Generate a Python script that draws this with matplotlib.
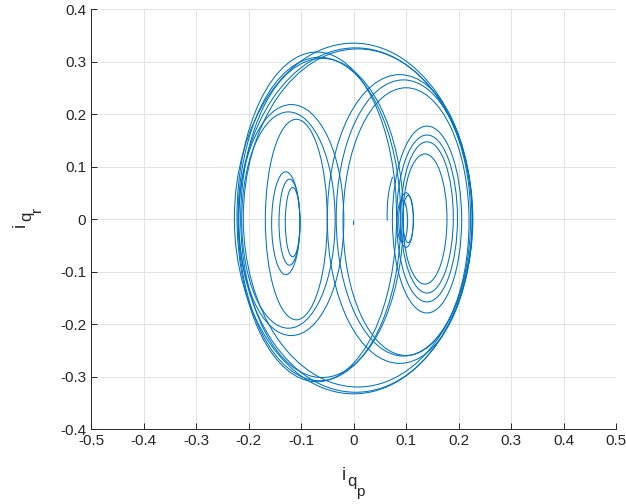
import matplotlib
matplotlib.use("Agg")
import matplotlib.pyplot as plt
from matplotlib.patches import Ellipse, Arc

plt.rcParams["font.family"] = ["Liberation Sans", "DejaVu Sans"]

# loops of the i_qp / i_qr orbit: centre, half-width, half-height
loop_cx = [-0.116, -0.122, -0.129,                 # inner left scroll
           -0.109, -0.124, -0.1185,                # middle left scroll
           0.104, 0.100, 0.093,                    # inner right scroll
           0.136, 0.140, 0.140, 0.140,             # middle right scroll
           0.088, 0.095, 0.100,                    # outer right scroll
           -0.070, -0.065, -0.060,                 # outer left scroll
           0.000, 0.004, 0.008]                    # outermost loops
loop_cy = [-0.006, -0.006, -0.008,
           -0.001, -0.002, -0.002,
           0.000, -0.002, -0.004,
           0.000, 0.003, 0.001, -0.001,
           0.000, 0.002, -0.005,
           0.004, 0.000, 0.002,
           0.001, -0.002, 0.002]
loop_rx = [0.014, 0.020, 0.027,
           0.059, 0.089, 0.100,
           0.010, 0.014, 0.010,
           0.042, 0.050, 0.058, 0.066,
           0.138, 0.128, 0.120,
           0.152, 0.155, 0.155,
           0.227, 0.223, 0.218]
loop_ry = [0.066, 0.082, 0.098,
           0.191, 0.206, 0.220,
           0.045, 0.052, 0.040,
           0.124, 0.144, 0.159, 0.178,
           0.275, 0.263, 0.255,
           0.314, 0.308, 0.304,
           0.334, 0.328, 0.322]

# loose ends of the orbit: centre, half-width, half-height, start/end angle
end_cx = [0.100, 0.060]
end_cy = [0.010, -0.007]
end_rx = [0.036, 0.060]
end_ry = [0.100, 0.250]
end_t1 = [110, 176]
end_t2 = [200, 184]

blue = "#0072BD"
dark = "#262626"
W, H = 626, 504

fig = plt.figure(figsize=(6.26, 5.04), dpi=100)
ax = fig.add_axes([0.1454, 0.1488, 0.8387, 0.8333])

for cx, cy, rx, ry in zip(loop_cx, loop_cy, loop_rx, loop_ry):
    ax.add_patch(Ellipse((cx, cy), 2 * rx, 2 * ry, fill=False,
                         edgecolor=blue, linewidth=0.75))
for cx, cy, rx, ry, t1, t2 in zip(end_cx, end_cy, end_rx, end_ry, end_t1, end_t2):
    ax.add_patch(Arc((cx, cy), 2 * rx, 2 * ry, theta1=t1, theta2=t2,
                     edgecolor=blue, linewidth=0.75))

ax.set_xlim(-0.5, 0.5)
ax.set_ylim(-0.4, 0.4)
ax.set_xticks([-0.5, -0.4, -0.3, -0.2, -0.1, 0, 0.1, 0.2, 0.3, 0.4, 0.5])
ax.set_yticks([-0.4, -0.3, -0.2, -0.1, 0, 0.1, 0.2, 0.3, 0.4])
ax.set_xticklabels(["-0.5", "-0.4", "-0.3", "-0.2", "-0.1", "0",
                    "0.1", "0.2", "0.3", "0.4", "0.5"])
ax.set_yticklabels(["-0.4", "-0.3", "-0.2", "-0.1", "0",
                    "0.1", "0.2", "0.3", "0.4"])

ax.grid(True, color="#e3e3e3", linewidth=0.7)
ax.set_axisbelow(True)
for side in ["top", "right"]:
    ax.spines[side].set_visible(False)
for side in ["left", "bottom"]:
    ax.spines[side].set_color(dark)
    ax.spines[side].set_linewidth(0.7)
ax.tick_params(direction="in", length=4, width=0.7, color=dark,
               labelcolor=dark, labelsize=11)

# axis labels written piece by piece so the nested subscripts keep their size
def px_text(x, y, s, size, rot=0):
    fig.text(x / W, 1 - y / H, s, fontsize=size, color=dark, ha="left",
             va="baseline", rotation=rot, rotation_mode="anchor")

px_text(342, 480, "i", 13)
px_text(347, 486, "q", 12)
px_text(356, 496, "p", 11)

px_text(25, 227, "i", 13, 90)
px_text(31, 221, "q", 12, 90)
px_text(41, 212, "r", 11, 90)

fig.savefig("out.png", dpi=100)
